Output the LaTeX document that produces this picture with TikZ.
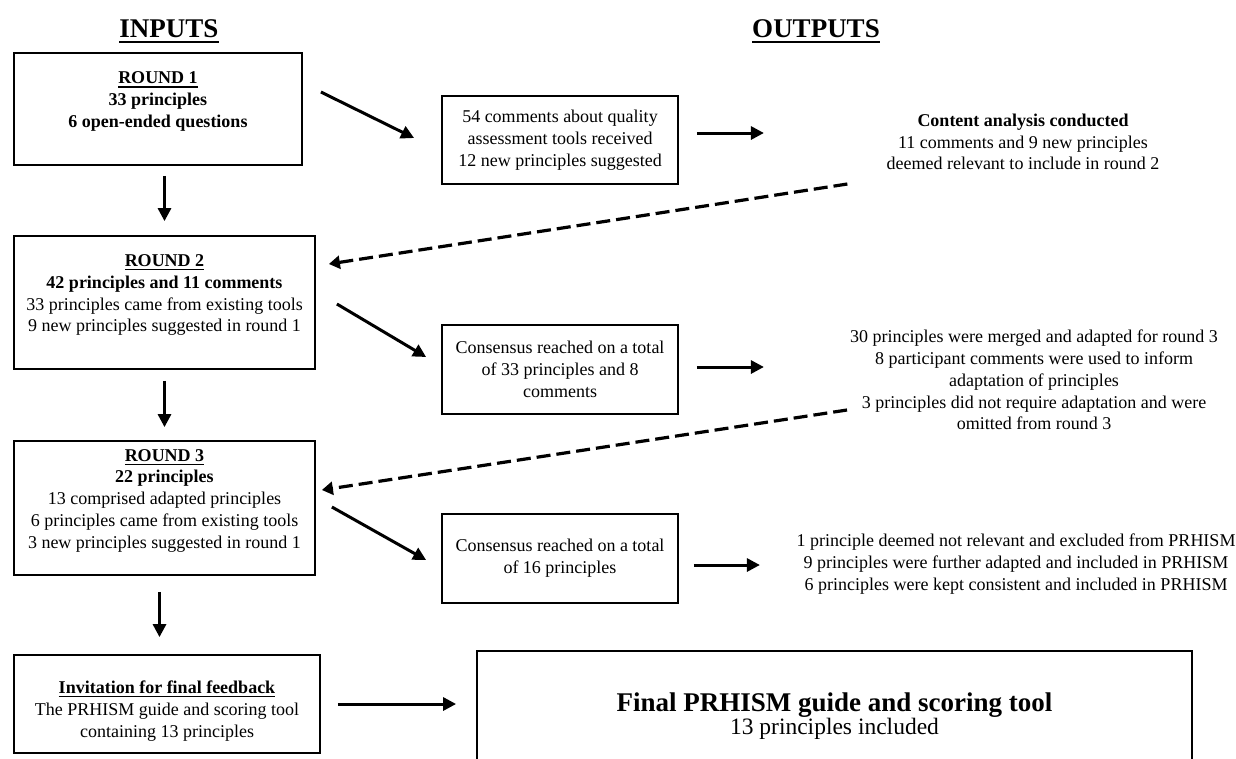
\documentclass[tikz,border=0pt]{standalone}
\usepackage{fontspec}
\setmainfont{Liberation Serif}
\usetikzlibrary{arrows.meta,positioning}
\newcommand{\undl}[1]{\setbox0\hbox{#1}\rlap{\copy0}\rule[-0.2em]{\wd0}{0.07em}}

\begin{document}
\begin{tikzpicture}[x=1pt, y=-1pt,
  txt/.style={font=\fontsize{18}{21.8}\selectfont, align=center, inner sep=0pt},
  box/.style={txt, draw, line width=1.8pt},
  head/.style={font=\fontsize{27}{30}\selectfont\bfseries, inner sep=0pt},
  arr/.style={line width=3pt, -{Triangle[length=13pt, width=13pt]}},
  dasharr/.style={line width=3.2pt, dash pattern=on 14pt off 6pt, -{Triangle[length=11pt, width=13pt]}}]
\useasboundingbox (0,0) rectangle (1236,758);
% headings
\node[head] (inputs) at (169,31) {\undl{INPUTS}};
\node[head] (outputs) at (816,31) {\undl{OUTPUTS}};
% inputs column
\node[box, minimum width=288, minimum height=112] (r1) at (158,109) {\undl{\textbf{ROUND 1}}\\ \textbf{33 principles}\\ \textbf{6 open-ended questions}\\[-10pt] \strut};
\node[box, minimum width=301, minimum height=133] (r2) at (164.5,302.5) {\undl{\textbf{ROUND 2}}\\ \textbf{42 principles and 11 comments}\\ 33 principles came from existing tools\\ 9 new principles suggested in round 1\\[-10pt] \strut};
\node[box, minimum width=301, minimum height=134] (r3) at (164.5,508) {\undl{\textbf{ROUND 3}}\\ \textbf{22 principles}\\ 13 comprised adapted principles\\ 6 principles came from existing tools\\ 3 new principles suggested in round 1\\[-10pt] \strut};
\node[box, minimum width=306, minimum height=98] (inv) at (167,704) {\rule{0pt}{27pt}\undl{\textbf{Invitation for final feedback}}\\ The PRHISM guide and scoring tool\\ containing 13 principles};
% consensus boxes
\node[box, minimum width=236, minimum height=88] (c1) at (560,140) {54 comments about quality\\ assessment tools received\\ 12 new principles suggested};
\node[box, minimum width=236, minimum height=89] (c2) at (560,369.5) {Consensus reached on a total\\ of 33 principles and 8\\ comments};
\node[box, minimum width=236, minimum height=89] (c3) at (560,558.5) {Consensus reached on a total\\ of 16 principles};
% outputs column
\node[txt] (ca) at (1023,142) {\textbf{Content analysis conducted}\\ 11 comments and 9 new principles\\ deemed relevant to include in round 2};
\node[txt] (mg) at (1034,380) {30 principles were merged and adapted for round 3\\ 8 participant comments were used to inform\\ adaptation of principles\\ 3 principles did not require adaptation and were\\ omitted from round 3};
\node[txt] (ex) at (1016,564) {1 principle deemed not relevant and excluded from PRHISM\\ 9 principles were further adapted and included in PRHISM\\ 6 principles were kept consistent and included in PRHISM};
\node[box, font=\fontsize{23.5}{21}\selectfont, minimum width=715, minimum height=130] (fin) at (834.5,716) {{\fontsize{27}{30}\selectfont\bfseries Final PRHISM guide and scoring tool}\\ 13 principles included};
% arrows
\draw[arr, shorten <=10pt, shorten >=14pt] (r1.south -| r2.north) -- (r2.north);
\draw[arr, shorten <=11pt, shorten >=13pt] (r2.south) -- (r3.north);
\draw[arr, shorten <=16pt, shorten >=17pt] ([xshift=-5pt]r3.south) -- ([xshift=-5pt]r3.south |- inv.north);
\draw[arr] ([shift={(18,-17)}]r1.east) -- ([shift={(-27,-2)}]c1.west);
\draw[arr] ([shift={(21,1.5)}]r2.east) -- ([shift={(-15,-12.5)}]c2.west);
\draw[arr] ([shift={(16,-1)}]r3.east) -- ([shift={(-15,1.5)}]c3.west);
\draw[arr] ([shift={(18,-7)}]c1.east) -- ++(67,0);
\draw[arr] ([shift={(18,-2.5)}]c2.east) -- ++(67,0);
\draw[arr] ([shift={(15,6.5)}]c3.east) -- ++(66,0);
\draw[arr, shorten <=17pt, shorten >=20pt] (inv.east) -- (inv.east -| fin.west);
\draw[dasharr] ([shift={(-39,42)}]ca.west) -- ([shift={(13,-38.5)}]r2.east);
\draw[dasharr] ([shift={(-3,30)}]mg.west) -- ([shift={(6,-18)}]r3.east);
\end{tikzpicture}
\end{document}
